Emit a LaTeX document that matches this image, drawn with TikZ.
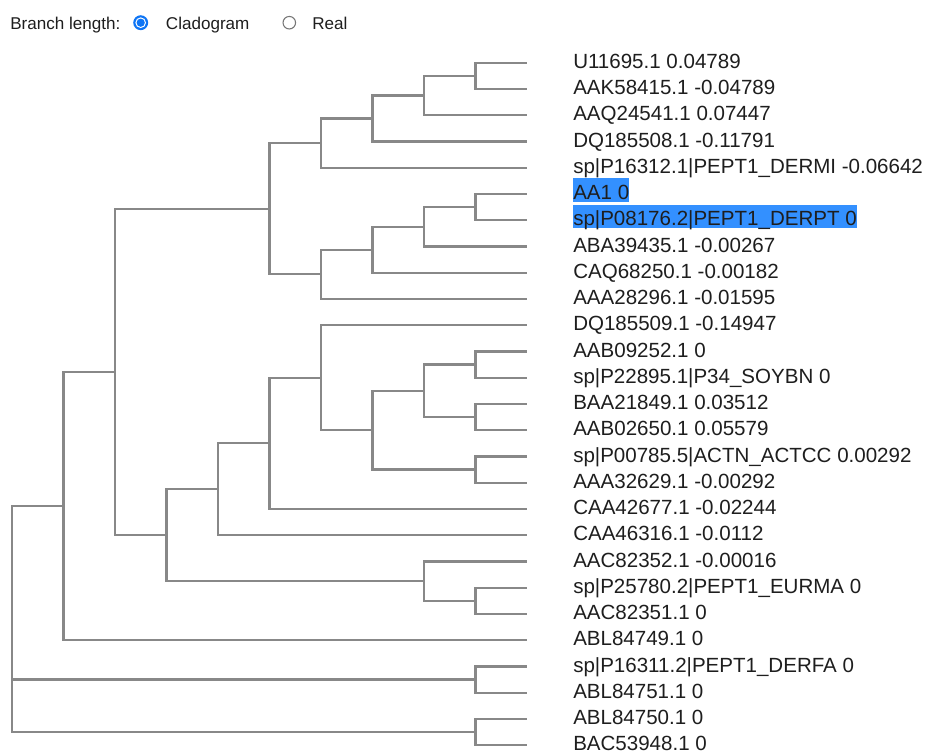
\documentclass[tikz,border=0pt]{standalone}
\usepackage{fontspec}
\setmainfont{Liberation Sans}
\usetikzlibrary{backgrounds}
\definecolor{cline}{HTML}{888888}
\definecolor{ctext}{HTML}{1E1E1E}
\definecolor{csel}{HTML}{3390FF}
\definecolor{cradio}{HTML}{0F75F5}
\definecolor{cring}{HTML}{767676}
\tikzset{
  every picture/.style={x=0.75pt, y=-0.75pt},
  branch/.style={draw=cline, line width=1.7pt},
  leaf/.style={anchor=base west, inner sep=0pt, text height=15.6pt, text depth=1.4pt, font=\fontsize{15.4}{18}\selectfont, text=ctext},
  head/.style={anchor=base west, inner sep=0pt, font=\fontsize{12.8}{15}\selectfont, text=ctext},
}
\newcommand{\clade}[2]{
  \foreach \k in {#2} {
    \draw[branch] (#1) |- (\k);
  }
}

\begin{document}
\begin{tikzpicture}
  \useasboundingbox (0,0) rectangle (928,751);
  \begin{scope}[on background layer]
    \fill[white] (0,0) rectangle (928,751);
  \end{scope}
  % header
  \node[head] (title) at (10,29.4) {Branch length:};
  \coordinate (radclad) at (140.7,22.7);
  \fill[cradio] (radclad) circle (5.6pt);
  \fill[white] (radclad) circle (4pt);
  \fill[cradio] (radclad) circle (3.1pt);
  \node[head] (clad) at (165.7,29.4) {Cladogram};
  \coordinate (radreal) at (289.3,22.7);
  \draw[cring, line width=0.8pt] (radreal) circle (4.7pt);
  \node[head] (real) at (312,29.4) {Real};
  % leaves
  \foreach \lab [count=\i] in {U11695.1 0.04789, AAK58415.1 -0.04789, AAQ24541.1 0.07447, DQ185508.1 -0.11791, sp|P16312.1|PEPT1\_DERMI -0.06642, AA1 0, sp|P08176.2|PEPT1\_DERPT 0, ABA39435.1 -0.00267, CAQ68250.1 -0.00182, AAA28296.1 -0.01595, DQ185509.1 -0.14947, AAB09252.1 0, sp|P22895.1|P34\_SOYBN 0, BAA21849.1 0.03512, AAB02650.1 0.05579, sp|P00785.5|ACTN\_ACTCC 0.00292, AAA32629.1 -0.00292, CAA42677.1 -0.02244, CAA46316.1 -0.0112, AAC82352.1 -0.00016, sp|P25780.2|PEPT1\_EURMA 0, AAC82351.1 0, ABL84749.1 0, sp|P16311.2|PEPT1\_DERFA 0, ABL84751.1 0, ABL84750.1 0, BAC53948.1 0} {
    \coordinate (t\i) at (527,36.45+26.25*\i);
    \node[leaf] (l\i) at (573,42.05+26.25*\i) {\lab};
  }
  % selected rows
  \begin{scope}[on background layer]
    \foreach \k in {6,7}
      \fill[csel] (l\k.south west) rectangle (l\k.north east);
  \end{scope}
  % inner nodes
  \coordinate (a9) at (475.5,75.8);
  \coordinate (a8) at (424,95.5);
  \coordinate (a7) at (372.5,118.5);
  \coordinate (a6) at (321,143.1);
  \coordinate (b9) at (475.5,207.1);
  \coordinate (b8) at (424,226.8);
  \coordinate (b7) at (372.5,249.7);
  \coordinate (b6) at (321,274.3);
  \coordinate (c5) at (269.5,208.7);
  \coordinate (e9a) at (475.5,364.6);
  \coordinate (e9b) at (475.5,417.1);
  \coordinate (e8) at (424,390.8);
  \coordinate (e9c) at (475.5,469.6);
  \coordinate (e7) at (372.5,430.2);
  \coordinate (e6) at (321,377.7);
  \coordinate (e5) at (269.5,443.3);
  \coordinate (e4) at (218,489.3);
  \coordinate (f9) at (475.5,600.8);
  \coordinate (f8) at (424,581.1);
  \coordinate (g3) at (166.5,535.2);
  \coordinate (h2) at (115,372.0);
  \coordinate (k1) at (63.5,506.1);
  \coordinate (m9) at (475.5,679.6);
  \coordinate (p9) at (475.5,732.1);
  \coordinate (root) at (12,619.1);
  % branches
  \clade{a9}{t1,t2}
  \clade{a8}{a9,t3}
  \clade{a7}{a8,t4}
  \clade{a6}{a7,t5}
  \clade{b9}{t6,t7}
  \clade{b8}{b9,t8}
  \clade{b7}{b8,t9}
  \clade{b6}{b7,t10}
  \clade{c5}{a6,b6}
  \clade{e9a}{t12,t13}
  \clade{e9b}{t14,t15}
  \clade{e8}{e9a,e9b}
  \clade{e9c}{t16,t17}
  \clade{e7}{e8,e9c}
  \clade{e6}{t11,e7}
  \clade{e5}{e6,t18}
  \clade{e4}{e5,t19}
  \clade{f9}{t21,t22}
  \clade{f8}{t20,f9}
  \clade{g3}{e4,f8}
  \clade{h2}{c5,g3}
  \clade{k1}{h2,t23}
  \clade{m9}{t24,t25}
  \clade{p9}{t26,t27}
  \clade{root}{k1,m9,p9}
\end{tikzpicture}
\end{document}
